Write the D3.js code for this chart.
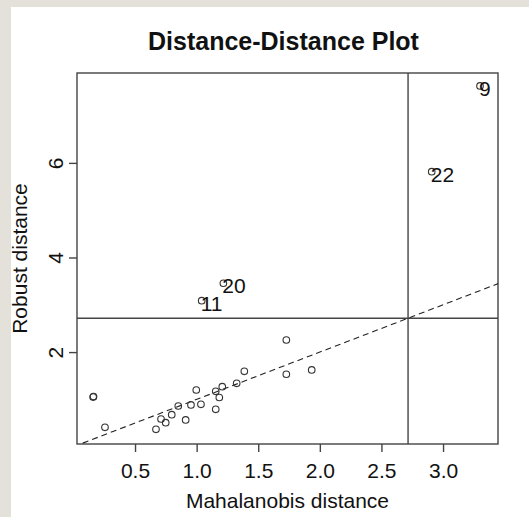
<!DOCTYPE html>
<html lang="en">
<head>
<meta charset="UTF-8">
<title>Distance-Distance Plot</title>
<script src="https://d3js.org/d3.v7.min.js"></script>
<style>
    body { margin: 0; background: #fff; }
    text { font-family: "Liberation Sans", Arial, sans-serif; fill: #111; }
    .box { fill: none; stroke: #444; stroke-width: 1.4px; }
    .cut { stroke: #444; stroke-width: 1.4px; }
    .diag { fill: none; stroke: #222; stroke-width: 1.1px; stroke-dasharray: 6,4; }
    .pt { fill: none; stroke: #333; stroke-width: 1.1px; }
</style>
</head>
<body>
<div id="chart"></div>
<script>
// data
const mahal  = [0.160, 0.163, 0.256, 0.670, 0.711, 0.749, 0.798, 0.851, 0.911, 0.954,
                0.997, 1.035, 1.155, 1.155, 1.184, 1.208, 1.325, 1.387, 1.728, 1.728,
                1.934, 1.041, 1.217, 2.908, 3.300];
const robust = [1.050, 1.060, 0.410, 0.368, 0.586, 0.507, 0.677, 0.860, 0.565, 0.882,
                1.199, 0.896, 0.791, 1.171, 1.040, 1.268, 1.340, 1.594, 2.256, 1.531,
                1.622, 3.087, 3.455, 5.814, 7.626];
const pointIds = [null, null, null, null, null, null, null, null, null, null,
                  null, null, null, null, null, null, null, null, null, null,
                  null, "11", "20", "22", "9"];
const xTicks = [0.5, 1.0, 1.5, 2.0, 2.5, 3.0];
const yTicks = [2, 4, 6];
const cutoff = 2.716;

const width = 529, height = 517;
const pLeft = 77, pRight = 498, pTop = 73, pBottom = 444;
const fs = 21;

const svg = d3.select("#chart").append("svg")
    .attr("width", width)
    .attr("height", height);

// grey page edge
svg.append("rect").attr("x", 0).attr("y", 0).attr("width", 11).attr("height", height).attr("fill", "#e4e1db");
svg.append("rect").attr("x", 0).attr("y", 0).attr("width", width).attr("height", 7).attr("fill", "#e4e1db");

const x = d3.scaleLinear().domain([0.029, 3.446]).range([pLeft, pRight]);
const y = d3.scaleLinear().domain([0.057, 7.90]).range([pBottom, pTop]);

svg.append("defs").append("clipPath").attr("id", "clip")
    .append("rect").attr("x", pLeft).attr("y", pTop)
    .attr("width", pRight - pLeft).attr("height", pBottom - pTop);

// axes
const xAxis = d3.axisBottom(x).tickValues(xTicks).tickFormat(d3.format(".1f")).tickSize(8).tickPadding(11);
const gx = svg.append("g").attr("transform", "translate(0," + pBottom + ")").call(xAxis);
gx.select(".domain").remove();
gx.selectAll("line").attr("stroke", "#444").attr("stroke-width", 1.4);
gx.selectAll("text").attr("font-size", fs).attr("fill", "#111")
    .attr("font-family", "Liberation Sans, Arial, sans-serif");

const yAxis = d3.axisLeft(y).tickValues(yTicks).tickFormat(d3.format("d")).tickSize(8).tickPadding(0);
const gy = svg.append("g").attr("transform", "translate(" + pLeft + ",0)").call(yAxis);
gy.select(".domain").remove();
gy.selectAll("line").attr("stroke", "#444").attr("stroke-width", 1.4);
gy.selectAll("text").attr("font-size", fs).attr("fill", "#111")
    .attr("font-family", "Liberation Sans, Arial, sans-serif")
    .attr("x", null).attr("dy", null)
    .attr("text-anchor", "middle")
    .attr("transform", "translate(-14,0) rotate(-90)");

// box
svg.append("rect").attr("class", "box")
    .attr("x", pLeft).attr("y", pTop)
    .attr("width", pRight - pLeft).attr("height", pBottom - pTop);

const inner = svg.append("g").attr("clip-path", "url(#clip)");

// cutoff lines
inner.append("line").attr("class", "cut")
    .attr("x1", x(cutoff)).attr("x2", x(cutoff))
    .attr("y1", pTop).attr("y2", pBottom);
inner.append("line").attr("class", "cut")
    .attr("x1", pLeft).attr("x2", pRight)
    .attr("y1", y(cutoff)).attr("y2", y(cutoff));

// y = x reference
const lo = 0, hi = 4;
inner.append("path").attr("class", "diag")
    .attr("d", d3.line()([[x(lo), y(lo)], [x(hi), y(hi)]]));

// points
const pts = mahal.map((m, i) => ({ m: m, r: robust[i], id: pointIds[i] }));
inner.selectAll("circle.pt").data(pts).enter().append("circle")
    .attr("class", "pt")
    .attr("cx", d => x(d.m))
    .attr("cy", d => y(d.r))
    .attr("r", 3.3);

// labels just right of the flagged points
svg.selectAll("text.lab").data(pts.filter(d => d.id)).enter().append("text")
    .attr("class", "lab")
    .attr("x", d => x(d.m) - 1)
    .attr("y", d => y(d.r) + 10)
    .attr("font-size", fs)
    .text(d => d.id);

// titles
svg.append("text")
    .attr("x", (pLeft + pRight) / 2 - 4).attr("y", 50)
    .attr("text-anchor", "middle")
    .attr("font-size", 25).attr("font-weight", "bold")
    .text("Distance-Distance Plot");

svg.append("text")
    .attr("x", (pLeft + pRight) / 2).attr("y", 508)
    .attr("text-anchor", "middle")
    .attr("font-size", fs)
    .text("Mahalanobis distance");

svg.append("text")
    .attr("transform", "translate(27," + (pTop + pBottom) / 2 + ") rotate(-90)")
    .attr("text-anchor", "middle")
    .attr("font-size", fs)
    .text("Robust distance");
</script>
</body>
</html>
